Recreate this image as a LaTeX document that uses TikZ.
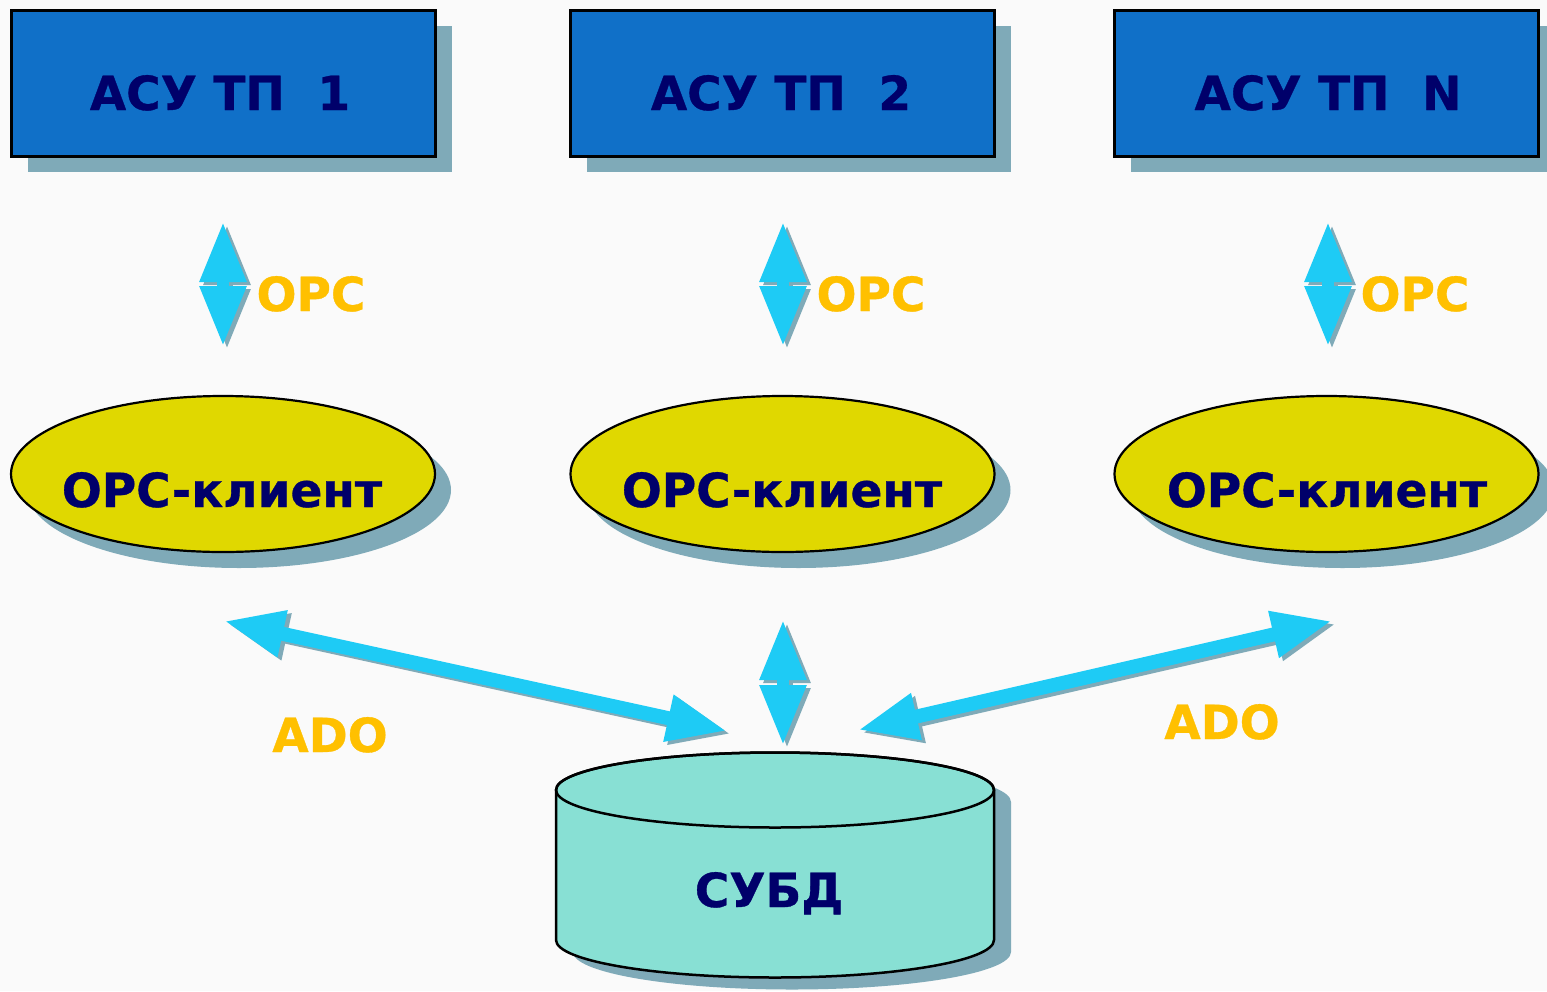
\documentclass[tikz,border=0pt]{standalone}
\usepackage{fontspec}
\setmainfont{DejaVu Sans}
\newfontfamily\heavyfont{DejaVu Sans Bold}[FakeBold=0.7]
\usetikzlibrary{shadows,arrows.meta,shapes.geometric}
\definecolor{bgc}{HTML}{FAFAFA}
\definecolor{boxc}{HTML}{1070C8}
\definecolor{ellc}{HTML}{E0D800}
\definecolor{dbc}{HTML}{88E0D4}
\definecolor{shadowc}{HTML}{7FAAB8}
\definecolor{navyc}{HTML}{00006A}
\definecolor{arrc}{HTML}{1ECBF5}
\definecolor{lblc}{HTML}{FFC000}
\begin{document}
\begin{tikzpicture}[x=1pt,y=-1pt,
  sh/.style={drop shadow={shadow xshift=16pt, shadow yshift=-16pt, fill=shadowc, opacity=1, draw=none}},
  asu/.style={rectangle, draw=black, line width=3pt, fill=boxc, minimum width=424pt, minimum height=146pt, inner sep=0pt, sh},
  cli/.style={ellipse, draw=black, line width=2.2pt, fill=ellc, minimum width=424pt, minimum height=156pt, inner sep=0pt, sh},
  big/.style={font=\fontsize{47}{56}\heavyfont, inner sep=0pt, anchor=base},
  dark/.style={big, text=navyc},
  lbl/.style={big, text=lblc},
  vtip/.style={Triangle[length=60pt, width=44pt]},
  arr/.style={line width=\sw, arrc, {Triangle[length=60pt, width=44pt]}-{Triangle[length=60pt, width=44pt]}},
  arrsh/.style={line width=\sw, shadowc, {Triangle[length=60pt, width=44pt]}-{Triangle[length=60pt, width=44pt]}}]

% canvas
\fill[bgc] (0,0) rectangle (1547,991);
\useasboundingbox (0,0) rectangle (1547,991);

% process control systems
\node[asu] (b1) at (223.5,83) {};
\node[asu] (b2) at (782.5,83) {};
\node[asu] (b3) at (1326.5,83) {};
\node[dark] (tb1) at (220,110) {АСУ ТП~~1};
\node[dark] (tb2) at (781,110) {АСУ ТП~~2};
\node[dark] (tb3) at (1328,110) {АСУ ТП~~N};

% OPC clients
\node[cli] (c1) at (223,474) {};
\node[cli] (c2) at (782.5,474) {};
\node[cli] (c3) at (1326.5,474) {};
\node[dark] (tc1) at (222,507) {OPC-клиент};
\node[dark] (tc2) at (782,507) {OPC-клиент};
\node[dark] (tc3) at (1327,507) {OPC-клиент};

% database cylinder
\fill[shadowc, shift={(17,12)}] (556,790) -- (556,940)
  arc[start angle=180, end angle=360, x radius=219pt, y radius=37.5pt]
  -- (994,790) arc[start angle=0, end angle=180, x radius=219pt, y radius=37.5pt] -- cycle;
\filldraw[fill=dbc, draw=black, line width=2.5pt] (556,790) -- (556,940)
  arc[start angle=180, end angle=360, x radius=219pt, y radius=37.5pt]
  -- (994,790) arc[start angle=0, end angle=180, x radius=219pt, y radius=37.5pt] -- cycle;
\draw[black, line width=2.5pt] (775,790) ellipse[x radius=219pt, y radius=37.5pt];
\node[dark] (tdb) at (769,907) {СУБД};

% arrow end points
\coordinate (o1a) at (223,222);  \coordinate (o1b) at (223,346);
\coordinate (o2a) at (783,222);  \coordinate (o2b) at (783,346);
\coordinate (o3a) at (1328,222); \coordinate (o3b) at (1328,346);
\coordinate (d2a) at (783,620);  \coordinate (d2b) at (783,745);
\coordinate (d1a) at (224,621);  \coordinate (d1b) at (727,731);
\coordinate (d3a) at (858,730);  \coordinate (d3b) at (1332,621);

% arrow shadows
\foreach \p/\q/\sw in {o1a/o1b/12pt, o2a/o2b/12pt, o3a/o3b/12pt, d2a/d2b/12pt, d1a/d1b/14pt, d3a/d3b/14pt}
  \draw[arrsh] ([shift={(4,3)}]\p) -- ([shift={(4,3)}]\q);
% arrows
\foreach \p/\q/\sw in {o1a/o1b/12pt, o2a/o2b/12pt, o3a/o3b/12pt, d2a/d2b/12pt, d1a/d1b/14pt, d3a/d3b/14pt}
  \draw[arr] (\p) -- (\q);

% interface labels
\node[lbl] (l1) at (311,311) {OPC};
\node[lbl] (l2) at (871,311) {OPC};
\node[lbl] (l3) at (1415,311) {OPC};
\node[lbl] (l4) at (330,752) {ADO};
\node[lbl] (l5) at (1222,739) {ADO};
\end{tikzpicture}
\end{document}
